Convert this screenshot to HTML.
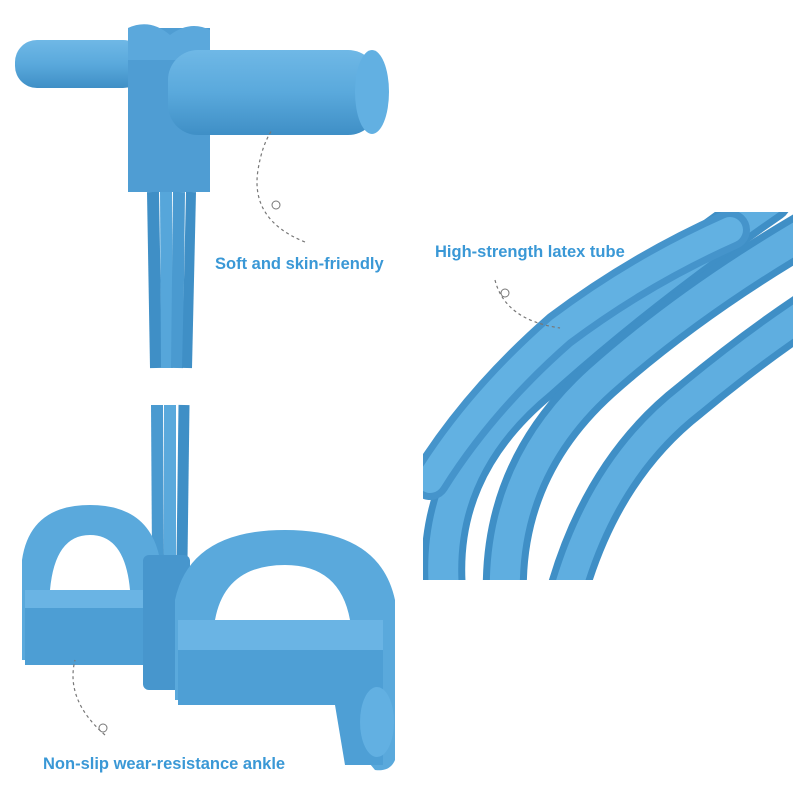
<!DOCTYPE html>
<html><head><meta charset="utf-8"><style>
html,body{margin:0;padding:0;background:#fff;}
svg{display:block}
text{font-family:"Liberation Sans",sans-serif;font-weight:bold;fill:#3a98d6;font-size:16.5px}
</style></head><body>
<svg width="793" height="793" viewBox="0 0 793 793" xmlns="http://www.w3.org/2000/svg">
<defs>
<linearGradient id="bar" x1="0" y1="0" x2="0" y2="1">
<stop offset="0" stop-color="#6fb8e6"/><stop offset="0.5" stop-color="#5aa9dc"/><stop offset="1" stop-color="#3f8fc6"/></linearGradient>
<clipPath id="rc"><rect x="423" y="212" width="370" height="368"/></clipPath>
</defs>
<!-- handle -->
<rect x="15" y="40" width="130" height="48" rx="22" fill="url(#bar)"/>
<rect x="128" y="28" width="82" height="164" fill="#4f9dd3"/>
<path d="M128 28 Q150 18 170 35 Q190 20 210 30 L210 60 L128 60Z" fill="#5ba8dc"/>
<rect x="168" y="50" width="210" height="85" rx="30" fill="url(#bar)"/>
<ellipse cx="372" cy="92" rx="17" ry="42" fill="#62b0e2"/>
<!-- tubes top -->
<g>
<path d="M153 192 L156 368" stroke="#3f8fc6" stroke-width="12"/>
<path d="M166 192 L167 368" stroke="#56a6da" stroke-width="12"/>
<path d="M179 192 L177 368" stroke="#4a9ad0" stroke-width="12"/>
<path d="M191 192 L187 368" stroke="#3f8fc6" stroke-width="10"/>
</g>
<!-- tubes bottom -->
<path d="M157 405 L158 560" stroke="#4a9ad0" stroke-width="12"/>
<path d="M170 405 L170 560" stroke="#5aa9dc" stroke-width="12"/>
<path d="M184 405 L182 560" stroke="#3f8fc6" stroke-width="11"/>
<!-- left pedal -->
<path d="M22 660 L22 560 Q30 505 90 505 Q150 505 160 560 L160 665 L130 665 L130 590 Q125 535 90 535 Q55 535 50 590 L50 660Z" fill="#5aa9dc"/>
<rect x="25" y="590" width="125" height="75" fill="#4d9ed4"/>
<rect x="25" y="590" width="125" height="18" fill="#6ab4e4"/>
<!-- center sleeve -->
<rect x="143" y="555" width="47" height="135" rx="6" fill="#4796cd"/>
<!-- right pedal -->
<path d="M175 700 L175 600 Q190 530 285 530 Q380 530 395 600 L395 760 Q390 772 375 770 L350 740 L350 620 Q340 565 285 565 Q225 565 215 620 L215 700Z" fill="#5aa9dc"/>
<path d="M178 620 L383 620 L383 765 L345 765 L335 705 L178 705Z" fill="#4e9fd5"/>
<rect x="178" y="620" width="205" height="30" fill="#6ab4e4"/>
<ellipse cx="377" cy="722" rx="17" ry="35" fill="#62b0e2"/>
<!-- right close-up -->
<g fill="none" clip-path="url(#rc)" stroke-linecap="round">
<path d="M445 600 Q430 470 540 380 Q640 290 770 200" stroke="#3f8fc6" stroke-width="44"/>
<path d="M445 600 Q430 470 540 380 Q640 290 770 200" stroke="#5faee0" stroke-width="30"/>
<path d="M505 600 Q500 470 600 380 Q690 300 810 230" stroke="#3f8fc6" stroke-width="44"/>
<path d="M505 600 Q500 470 600 380 Q690 300 810 230" stroke="#5faee0" stroke-width="30"/>
<path d="M565 600 Q600 470 690 400 Q750 350 810 310" stroke="#3f8fc6" stroke-width="42"/>
<path d="M565 600 Q600 470 690 400 Q750 350 810 310" stroke="#5faee0" stroke-width="28"/>
<path d="M430 480 Q480 400 560 330 Q640 270 730 230" stroke="#4594cb" stroke-width="40"/>
<path d="M430 480 Q480 400 560 330 Q640 270 730 230" stroke="#62b1e2" stroke-width="26"/>
</g>
<!-- arrows -->
<g fill="none" stroke="#777" stroke-width="1.2" stroke-dasharray="3,3">
<path d="M305 242 Q250 220 258 170 Q262 145 272 130"/>
<path d="M495 280 Q505 320 560 328"/>
<path d="M105 735 Q65 700 75 660"/>
</g>
<circle cx="276" cy="205" r="4" fill="none" stroke="#777"/>
<circle cx="505" cy="293" r="4" fill="none" stroke="#777"/>
<circle cx="103" cy="728" r="4" fill="none" stroke="#777"/>
<text x="215" y="269">Soft and skin-friendly</text>
<text x="435" y="257">High-strength latex tube</text>
<text x="43" y="769">Non-slip wear-resistance ankle</text>
</svg>
</body></html>
